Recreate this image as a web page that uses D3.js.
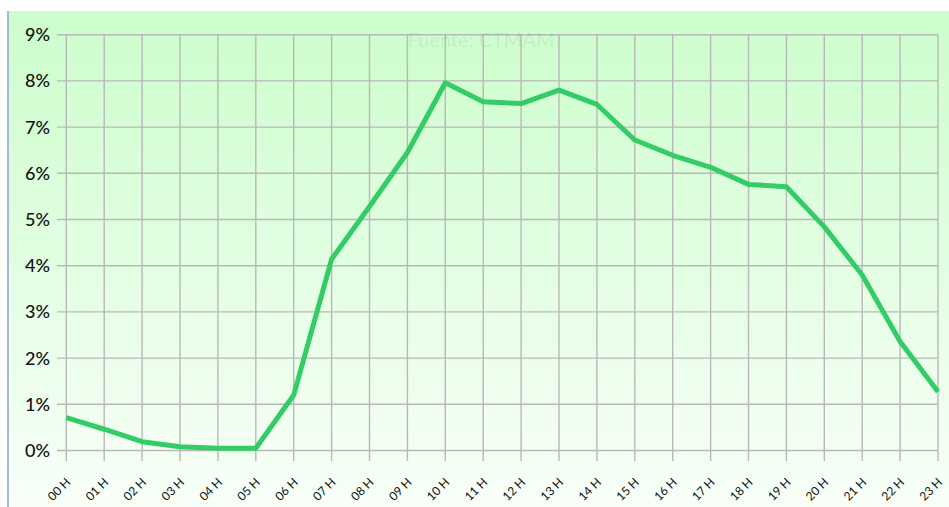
<!DOCTYPE html>
<html><head><meta charset="utf-8">
<script src="https://cdn.jsdelivr.net/npm/d3@7"></script>
<style>html,body{margin:0;padding:0;background:#fff;}svg{display:block;}</style>
</head><body>
<svg id="chart" width="949" height="507"></svg>
<script>
const hours = ["00 H","01 H","02 H","03 H","04 H","05 H","06 H","07 H","08 H","09 H","10 H","11 H","12 H","13 H","14 H","15 H","16 H","17 H","18 H","19 H","20 H","21 H","22 H","23 H"];
const shares = [0.71,0.46,0.19,0.08,0.05,0.05,1.2,4.14,5.28,6.45,7.96,7.55,7.51,7.80,7.49,6.72,6.39,6.13,5.76,5.71,4.84,3.80,2.36,1.27];
const yTicks = [0,1,2,3,4,5,6,7,8,9];
const sourceNote = "Fuente: CTMAM";

const svg = d3.select("#chart");
const W = 949, H = 507;
const defs = svg.append("defs");
const grad = defs.append("linearGradient").attr("id","bg").attr("x1",0).attr("y1",0).attr("x2",0).attr("y2",1);
grad.append("stop").attr("offset","0%").attr("stop-color","#ccfdcc");
grad.append("stop").attr("offset","100%").attr("stop-color","#f8fff8");

svg.append("rect").attr("x",7).attr("y",11).attr("width",W-7).attr("height",H-11).attr("fill","url(#bg)");
svg.append("line").attr("x1",8).attr("x2",8).attr("y1",11).attr("y2",H).attr("stroke","#a3b8d6").attr("stroke-width",2);

const x = d3.scalePoint().domain(hours).range([66.3, 938]);
const y = d3.scaleLinear().domain([0,9]).range([450.5, 34.7]);

// horizontal grid
svg.append("g").selectAll("line").data(yTicks).join("line")
  .attr("x1",57).attr("x2",938).attr("y1",d=>y(d)).attr("y2",d=>y(d))
  .attr("stroke","#b8b8b8").attr("stroke-width",1.4);
// vertical grid
svg.append("g").selectAll("line").data(hours).join("line")
  .attr("x1",d=>x(d)).attr("x2",d=>x(d)).attr("y1",y(9)).attr("y2",461)
  .attr("stroke","#b8b8b8").attr("stroke-width",1.4);

// watermark
svg.append("text").attr("x",481).attr("y",47).attr("text-anchor","middle")
  .attr("font-family","Lato, 'Open Sans', sans-serif").attr("font-size",20)
  .attr("fill","#000").attr("fill-opacity",0.07).text(sourceNote);

// y labels
svg.append("g").selectAll("text").data(yTicks).join("text")
  .attr("x",50).attr("y",d=>y(d)).attr("dy","0.36em").attr("text-anchor","end")
  .attr("font-family","Lato, 'Open Sans', sans-serif").attr("font-size",18).attr("font-weight",500).attr("fill","#111")
  .text(d=>d+"%");

// x labels
svg.append("g").selectAll("text").data(hours).join("text")
  .attr("transform",d=>`translate(${x(d)+2},${480}) rotate(-45)`)
  .attr("text-anchor","end").attr("dy","0.35em")
  .attr("font-family","Lato, 'Open Sans', sans-serif").attr("font-size",12).attr("fill","#111")
  .text(d=>d);

// line
const line = d3.line().x((d,i)=>x(hours[i])).y(d=>y(d));
svg.append("path").datum(shares).attr("d",line).attr("fill","none")
  .attr("stroke","#33cc66").attr("stroke-width",5).attr("stroke-linejoin","round").attr("stroke-linecap","butt");
</script>
</body></html>
